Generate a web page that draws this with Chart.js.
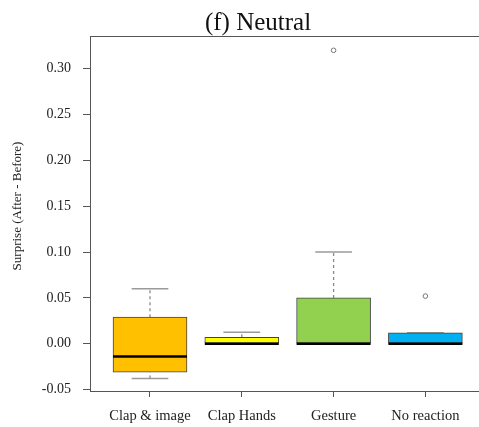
<!DOCTYPE html>
<html>
<head>
<meta charset="utf-8">
<script src="https://cdn.jsdelivr.net/npm/chart.js@4/dist/chart.umd.min.js"></script>
<style>
  html, body { margin: 0; padding: 0; background: #fff; overflow: hidden; }
  #wrap { width: 479px; height: 427px; }
</style>
</head>
<body>
<div id="wrap"><canvas id="c" width="479" height="427"></canvas></div>
<script>
// ---- data ----
const categories = ['Clap & image', 'Clap Hands', 'Gesture', 'No reaction'];
const whiskerLow  = [-0.038, 0.000, 0.000, 0.000];
const q1          = [-0.031, 0.000, 0.000, 0.000];
const medians     = [-0.014, 0.000, 0.000, 0.000];
const q3          = [ 0.029, 0.007, 0.050, 0.012];
const whiskerHigh = [ 0.060, 0.0125, 0.100, 0.012];
const outliers    = [[], [], [0.32], [0.052]];
const yTicks = [-0.05, 0.00, 0.05, 0.10, 0.15, 0.20, 0.25, 0.30];
const boxColors = ['#FFC000', '#FFFF00', '#92D050', '#00B0F0'];

// ---- derived datasets ----
const BOX_HALF = 0.403, CAP_HALF = 0.2;
const boxData = categories.map((c, i) => ({ x: i, y: [q1[i], q3[i]] }));
const medianData = [];
const whiskerData = [];
const capData = [];
const outlierData = [];
categories.forEach((c, i) => {
  medianData.push({ x: i - BOX_HALF, y: medians[i] }, { x: i + BOX_HALF, y: medians[i] }, { x: i + BOX_HALF, y: null });
  whiskerData.push({ x: i, y: q3[i] }, { x: i, y: whiskerHigh[i] }, { x: i, y: null });
  whiskerData.push({ x: i, y: whiskerLow[i] }, { x: i, y: q1[i] }, { x: i, y: null });
  capData.push({ x: i - CAP_HALF, y: whiskerHigh[i] }, { x: i + CAP_HALF, y: whiskerHigh[i] }, { x: i + CAP_HALF, y: null });
  capData.push({ x: i - CAP_HALF, y: whiskerLow[i] }, { x: i + CAP_HALF, y: whiskerLow[i] }, { x: i + CAP_HALF, y: null });
  outliers[i].forEach(v => outlierData.push({ x: i, y: v }));
});

const SERIF = "'Liberation Serif', 'Times New Roman', serif";

const decor = {
  id: 'decor',
  afterDraw(chart) {
    const { ctx, chartArea } = chart;
    ctx.save();
    // top frame line
    ctx.strokeStyle = '#555';
    ctx.lineWidth = 1;
    ctx.beginPath();
    ctx.moveTo(chartArea.left, chartArea.top + 0.5);
    ctx.lineTo(chartArea.right, chartArea.top + 0.5);
    ctx.stroke();
    // title
    ctx.fillStyle = '#111';
    ctx.font = '25px ' + SERIF;
    ctx.textAlign = 'center';
    ctx.textBaseline = 'middle';
    ctx.fillText('(f) Neutral', 258, 23);
    // y title
    ctx.font = '13px ' + SERIF;
    ctx.fillStyle = '#222';
    ctx.translate(18, 206);
    ctx.rotate(-Math.PI / 2);
    ctx.fillText('Surprise (After - Before)', 0, 0);
    ctx.restore();
  }
};

new Chart(document.getElementById('c'), {
  type: 'bar',
  data: {
    datasets: [
      { type: 'line', data: whiskerData, borderColor: '#8a8a8a', borderWidth: 1.3, borderDash: [3, 3],
        pointRadius: 0, pointHoverRadius: 0, spanGaps: false, order: 3 },
      { type: 'line', data: capData, borderColor: '#9a9a9a', borderWidth: 1.5,
        pointRadius: 0, pointHoverRadius: 0, spanGaps: false, order: 3 },
      { type: 'bar', data: boxData, backgroundColor: boxColors, borderColor: '#444', borderWidth: 1,
        borderSkipped: false, barThickness: 74, grouped: false, order: 2 },
      { type: 'line', data: medianData, borderColor: '#000', borderWidth: 2.5, borderCapStyle: 'butt',
        pointRadius: 0, pointHoverRadius: 0, spanGaps: false, order: 1 },
      { type: 'scatter', data: outlierData, pointStyle: 'circle', pointRadius: 2.3,
        pointBackgroundColor: '#fff', pointBorderColor: '#777', pointBorderWidth: 1, showLine: false, order: 0 }
    ]
  },
  options: {
    responsive: false,
    animation: false,
    events: [],
    layout: { autoPadding: false, padding: { top: 36, left: 0, right: 0, bottom: 0 } },
    plugins: { legend: { display: false }, tooltip: { enabled: false }, title: { display: false } },
    scales: {
      x: {
        type: 'linear',
        offset: false,
        min: -0.6536,
        max: 3.584,
        afterBuildTicks: (axis) => { axis.ticks = categories.map((c, i) => ({ value: i })); },
        afterFit: (axis) => { axis.height = 36; axis.paddingRight = 0; axis.paddingLeft = 0; },
        ticks: {
          autoSkip: false, maxRotation: 0, padding: 10,
          color: '#222', font: { family: SERIF, size: 14.5 },
          callback: (v) => categories[v]
        },
        grid: { offset: false, drawOnChartArea: false, drawTicks: true, tickLength: 6, color: '#555' },
        border: { display: true, color: '#555', width: 1 }
      },
      y: {
        type: 'linear',
        min: -0.0515,
        max: 0.3356,
        afterBuildTicks: (axis) => { axis.ticks = yTicks.map(v => ({ value: v })); },
        afterFit: (axis) => { axis.width = 90; axis.paddingTop = 0; axis.paddingBottom = 0; },
        ticks: {
          padding: 12, color: '#222', font: { family: SERIF, size: 14 },
          callback: (v) => Number(v).toFixed(2)
        },
        grid: { drawOnChartArea: false, drawTicks: true, tickLength: 7, color: '#555' },
        border: { display: true, color: '#555', width: 1 }
      }
    }
  },
  plugins: [decor]
});
</script>
</body>
</html>
